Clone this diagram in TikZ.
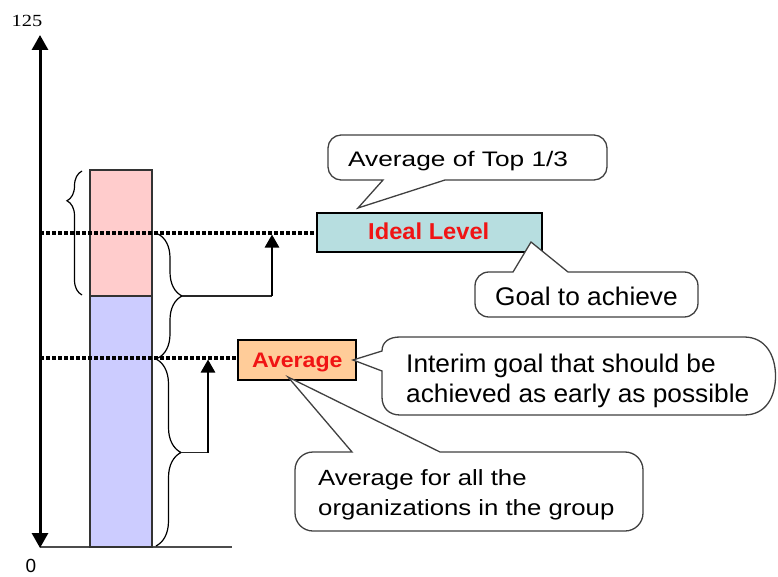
\documentclass[tikz,border=0pt]{standalone}
\usepackage{fontspec}
\setmainfont{Liberation Sans}
\newfontfamily\fsA{Liberation Sans}[FakeStretch=1.03]
\newfontfamily\fsB{Liberation Sans}[FakeStretch=1.10]
\newfontfamily\fsC{Liberation Sans}[FakeStretch=1.17]
\newfontfamily\fsD{Liberation Sans}[FakeStretch=1.25]
\newfontfamily\fsNum{Liberation Serif}[FakeStretch=1.2]
\usetikzlibrary{arrows.meta,decorations.pathreplacing}
\definecolor{barpink}{HTML}{FFCCCC}
\definecolor{barblue}{HTML}{CCCCFF}
\definecolor{idealfill}{HTML}{B7DEE0}
\definecolor{avgfill}{HTML}{FFCC99}
\definecolor{callgray}{HTML}{404040}
\definecolor{labelred}{HTML}{F01414}
\begin{document}
\begin{tikzpicture}[x=1pt,y=-1pt,
  txt/.style={inner sep=0pt, anchor=base west},
  bigtxt/.style={txt, font=\fsA\fontsize{25.5}{30}\selectfont},
  toptxt/.style={txt, font=\fsD\fontsize{21}{30}\selectfont},
  alltxt/.style={txt, font=\fsC\fontsize{22}{30}\selectfont},
  redtxt/.style={txt, text=labelred},
  bubble/.style={draw=callgray, fill=white, line width=1.3pt, line join=miter},
  levelbox/.style={draw=black, line width=1.2pt, rectangle, inner sep=0pt},
  barseg/.style={draw=black!80, line width=1.1pt, rectangle, inner sep=0pt, minimum width=62pt},
  dotline/.style={draw=black, line width=4pt, dash pattern=on 4pt off 2pt, line cap=butt},
  brc/.style={decorate, line width=1.2pt},
  thinline/.style={line width=1.3pt, draw=black!85},
  uparrow/.style={line width=2.6pt, -{Triangle[width=14pt,length=13pt]}},
  axisline/.style={line width=3pt, {Triangle[width=16pt,length=15pt]}-{Triangle[width=16pt,length=15pt]}},
]
\useasboundingbox (0,0) rectangle (778,577);

% axis and baseline
\coordinate (axtop) at (40,35);
\coordinate (axbot) at (40,548);
\coordinate (base0) at (40,547);
\coordinate (base1) at (232,547);
\draw[line width=1.5pt, draw=black!70] (base0) -- (base1);
\draw[axisline] (axbot) -- (axtop);
\node[font=\fsNum\fontsize{17}{20}\selectfont, anchor=base, inner sep=0pt] (ymax) at (27,27) {125};
\node[font=\fontsize{19}{20}\selectfont, anchor=base, inner sep=0pt] (ymin) at (31,572) {0};

% bar
\node[barseg, fill=barpink, minimum height=126pt] (pinkbar) at (121,233) {};
\node[barseg, fill=barblue, minimum height=251pt] (bluebar) at (121,421.5) {};

% level boxes
\node[levelbox, fill=idealfill, minimum width=225pt, minimum height=39pt] (ideal) at (429.5,232.5) {};
\node[redtxt, font=\fsA\bfseries\fontsize{23}{30}\selectfont] (idealtxt) at (368,240) {Ideal Level};
\node[levelbox, fill=avgfill, minimum width=118pt, minimum height=40pt] (avgbox) at (297,360) {};
\node[redtxt, font=\fsB\bfseries\fontsize{21}{30}\selectfont] (avgtxt) at (252,367) {Average};

% dotted guide lines
\coordinate (gu) at (40,233);
\coordinate (gl) at (40,358);
\draw[dotline] (gu) -- (gu -| ideal.west);
\draw[dotline] (gl) -- (gl -| avgbox.west);

% braces
\draw[brc, decoration={brace, amplitude=15pt, aspect=0.76}] (82,295) -- (82,171);
\draw[brc, decoration={brace, amplitude=24pt}] (158,234) -- (158,358);
\draw[brc, decoration={brace, amplitude=25pt}] (156,359) -- (156,546);

% connectors from brace tips
\coordinate (ubt) at (182,296);
\coordinate (uab) at (272,296);
\coordinate (uat) at (272,234.5);
\coordinate (lbt) at (181,452.5);
\coordinate (lab) at (208,452.5);
\coordinate (lat) at (208,359.5);
\draw[thinline] (ubt) -- (uab);
\draw[uparrow] (uab) -- (uat);
\draw[thinline] (lbt) -- (lab);
\draw[uparrow] (lab) -- (lat);

% callout: Average of Top 1/3
\draw[bubble] (341,135) -- (594,135) .. controls (601,135) and (607,141) .. (607,148) -- (607,167) .. controls (607,174) and (601,180) .. (594,180) -- (445,180) -- (358,208) -- (383,180) -- (341,180) .. controls (334,180) and (328,174) .. (328,167) -- (328,148) .. controls (328,141) and (334,135) .. (341,135) -- cycle;
\node[toptxt] (toplabel) at (348,167) {Average of Top 1/3};

% callout: Goal to achieve
\draw[bubble] (489,272) -- (513,272) -- (531,242) -- (568,272) -- (684,272) .. controls (692,272) and (698,278) .. (698,286) -- (698,303) .. controls (698,311) and (692,317) .. (684,317) -- (489,317) .. controls (481,317) and (475,311) .. (475,303) -- (475,286) .. controls (475,278) and (481,272) .. (489,272) -- cycle;
\node[bigtxt] (goallabel) at (495,305) {Goal to achieve};

% callout: Interim goal
\draw[bubble] (400,337) -- (744,337) .. controls (766,337) and (775.5,356) .. (775.5,376) .. controls (775.5,397) and (766,415) .. (744,415) -- (400,415) .. controls (389,415) and (382,408) .. (382,397) -- (382,371) -- (353,360) -- (382,351) .. controls (382,342) and (389,337) .. (400,337) -- cycle;
\node[bigtxt] (interimA) at (406,372) {Interim goal that should be};
\node[bigtxt] (interimB) at (406,402) {achieved as early as possible};

% callout: Average for all
\draw[bubble] (313,452) -- (352,452) -- (288,377) -- (440,452) -- (625,452) .. controls (635,452) and (643,460) .. (643,470) -- (643,513) .. controls (643,523) and (635,531) .. (625,531) -- (313,531) .. controls (303,531) and (295,523) .. (295,513) -- (295,470) .. controls (295,460) and (303,452) .. (313,452) -- cycle;
\node[alltxt] (allA) at (318,485) {Average for all the};
\node[alltxt] (allB) at (318,515) {organizations in the group};
\end{tikzpicture}
\end{document}
